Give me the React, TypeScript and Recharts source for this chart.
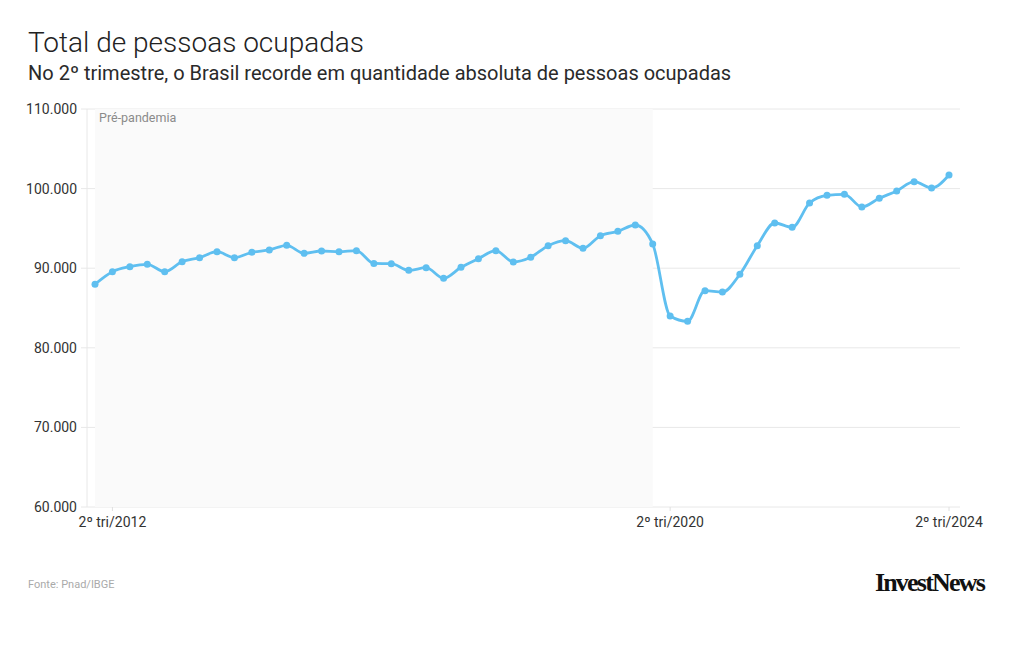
import React from "react";
import {
  LineChart,
  Line,
  XAxis,
  YAxis,
  CartesianGrid,
  ReferenceArea,
} from "recharts";

// Trimestres: 1º tri/2012 até 2º tri/2024
const quarters = [
  "1º tri/2012", "2º tri/2012", "3º tri/2012", "4º tri/2012",
  "1º tri/2013", "2º tri/2013", "3º tri/2013", "4º tri/2013",
  "1º tri/2014", "2º tri/2014", "3º tri/2014", "4º tri/2014",
  "1º tri/2015", "2º tri/2015", "3º tri/2015", "4º tri/2015",
  "1º tri/2016", "2º tri/2016", "3º tri/2016", "4º tri/2016",
  "1º tri/2017", "2º tri/2017", "3º tri/2017", "4º tri/2017",
  "1º tri/2018", "2º tri/2018", "3º tri/2018", "4º tri/2018",
  "1º tri/2019", "2º tri/2019", "3º tri/2019", "4º tri/2019",
  "1º tri/2020", "2º tri/2020", "3º tri/2020", "4º tri/2020",
  "1º tri/2021", "2º tri/2021", "3º tri/2021", "4º tri/2021",
  "1º tri/2022", "2º tri/2022", "3º tri/2022", "4º tri/2022",
  "1º tri/2023", "2º tri/2023", "3º tri/2023", "4º tri/2023",
  "1º tri/2024", "2º tri/2024",
];

// Pessoas ocupadas (mil)
const ocupadas = [
  87980, 89560, 90190, 90490, 89560, 90820, 91320, 92070,
  91320, 92000, 92290, 92880, 91870, 92160, 92070, 92200,
  90600, 90570, 89730, 90060, 88730, 90110, 91200, 92200,
  90780, 91370, 92830, 93460, 92500, 94090, 94630, 95430,
  93040, 84000, 83330, 87180, 87000, 89230, 92830, 95680,
  95130, 98190, 99150, 99280, 97690, 98780, 99700, 100870,
  100080, 101710,
];

const xTicks = ["2º tri/2012", "2º tri/2020", "2º tri/2024"];
const yTicks = [60000, 70000, 80000, 90000, 100000, 110000];
const preStart = "1º tri/2012";
const preEnd = "1º tri/2020";

const data = quarters.map((q, i) => ({ q, v: ocupadas[i] }));

const FONT = "Roboto, 'Noto Sans', sans-serif";
const BLUE = "#5fbff0";

const fmt = (v: number) => v.toLocaleString("de-DE");

export default function App() {
  return (
    <div
      style={{
        position: "absolute",
        left: 0,
        top: 0,
        width: 1020,
        height: 650,
        background: "#fff",
        fontFamily: FONT,
        overflow: "hidden",
      }}
    >
      <div
        style={{
          position: "absolute",
          left: 28,
          top: 26,
          fontSize: 28,
          fontWeight: 300,
          color: "#222",
          whiteSpace: "nowrap",
        }}
      >
        Total de pessoas ocupadas
      </div>
      <div
        style={{
          position: "absolute",
          left: 28,
          top: 61,
          fontSize: 20,
          color: "#2a2a2a",
          whiteSpace: "nowrap",
        }}
      >
        No 2º trimestre, o Brasil recorde em quantidade absoluta de pessoas ocupadas
      </div>

      <div style={{ position: "absolute", left: 0, top: 0 }}>
        <LineChart
          width={1020}
          height={650}
          data={data}
          margin={{ top: 109, right: 60, bottom: 113, left: 0 }}
        >
          <ReferenceArea
            x1={preStart}
            x2={preEnd}
            fill="#fafafa"
            fillOpacity={1}
            stroke="none"
            ifOverflow="extendDomain"
            label={{
              value: "Pré-pandemia",
              position: "insideTopLeft",
              offset: 4,
              fill: "#8a8a8a",
              fontSize: 12.5,
              fontFamily: FONT,
            }}
          />
          <CartesianGrid vertical={false} stroke="#e8e8e8" />
          <XAxis
            dataKey="q"
            ticks={xTicks}
            interval={0}
            padding={{ left: 8, right: 11 }}
            axisLine={false}
            tickLine={{ stroke: "#e0e0e0" }}
            tickSize={4}
            tickMargin={6}
            height={30}
            tick={{ fill: "#333", fontSize: 14, fontFamily: FONT }}
          />
          <YAxis
            domain={[60000, 110000]}
            ticks={yTicks}
            width={87}
            axisLine={{ stroke: "#e8e8e8" }}
            tickLine={{ stroke: "#e8e8e8" }}
            tickSize={6}
            tickMargin={4}
            tickFormatter={fmt}
            tick={{ fill: "#333", fontSize: 14, fontFamily: FONT }}
          />
          <Line
            type="monotone"
            dataKey="v"
            stroke={BLUE}
            strokeWidth={2.8}
            dot={{ r: 3.5, fill: BLUE, stroke: BLUE, strokeWidth: 0 }}
            activeDot={false}
            isAnimationActive={false}
          />
        </LineChart>
      </div>

      <div
        style={{
          position: "absolute",
          left: 28,
          top: 578,
          fontSize: 11,
          color: "#aaa",
          whiteSpace: "nowrap",
        }}
      >
        Fonte: Pnad/IBGE
      </div>
      <div
        style={{
          position: "absolute",
          right: 36,
          top: 568,
          fontFamily: "'Liberation Serif', 'DejaVu Serif', serif",
          fontWeight: 700,
          fontSize: 26,
          letterSpacing: -1.8,
          color: "#111",
          whiteSpace: "nowrap",
        }}
      >
        InvestNews
      </div>
    </div>
  );
}
